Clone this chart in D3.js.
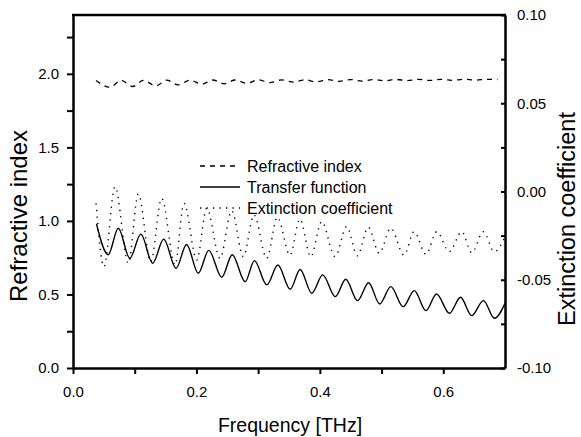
<!DOCTYPE html>
<html>
<head>
<meta charset="utf-8">
<script src="https://cdn.jsdelivr.net/npm/d3@7"></script>
<style>
  body { margin: 0; background: #fff; }
  text { font-family: "Liberation Sans", Arial, sans-serif; fill: #000; }
</style>
</head>
<body>
<svg id="chart" width="581" height="437"></svg>
<script>
// frequency [THz] / value pairs
const transferX = [0.038, 0.057, 0.0734, 0.092, 0.110, 0.129, 0.147, 0.167, 0.184, 0.203, 0.220, 0.241, 0.258, 0.279, 0.294, 0.314, 0.332, 0.352, 0.368, 0.387, 0.4046, 0.425, 0.442, 0.461, 0.479, 0.497, 0.515, 0.535, 0.553, 0.572, 0.589, 0.610, 0.628, 0.646, 0.665, 0.683, 0.700];
const transferY = [0.98, 0.77, 0.95, 0.746, 0.91, 0.712, 0.876, 0.678, 0.84, 0.644, 0.80, 0.617, 0.77, 0.587, 0.73, 0.565, 0.70, 0.535, 0.67, 0.508, 0.633, 0.485, 0.603, 0.458, 0.58, 0.435, 0.553, 0.417, 0.526, 0.39, 0.503, 0.372, 0.481, 0.356, 0.458, 0.338, 0.44];

const extinctionX = [0.0373, 0.0502, 0.0681, 0.0896, 0.1058, 0.1259, 0.1437, 0.1653, 0.1799, 0.2005, 0.2167, 0.2382, 0.2572, 0.2760, 0.2933, 0.3139, 0.3311, 0.3516, 0.3678, 0.3852, 0.4030, 0.4246, 0.4435, 0.4607, 0.4785, 0.4963, 0.5148, 0.5364, 0.5526, 0.5720, 0.5894, 0.6098, 0.6299, 0.6461, 0.6649, 0.6827, 0.700];
const extinctionY = [-0.0067, -0.0426, 0.0027, -0.0407, -0.0014, -0.0398, -0.0039, -0.0416, -0.0067, -0.0388, -0.0095, -0.0378, -0.0110, -0.0369, -0.0133, -0.0378, -0.0146, -0.0360, -0.0157, -0.0369, -0.0171, -0.0369, -0.0199, -0.0364, -0.0203, -0.0350, -0.0208, -0.0360, -0.0228, -0.0356, -0.0228, -0.0341, -0.0228, -0.0347, -0.0228, -0.0341, -0.0256];

const refractiveX = [0.0373, 0.060, 0.0778, 0.0967, 0.1139, 0.1345, 0.1518, 0.1706, 0.1896, 0.2086, 0.2264, 0.2452, 0.2625, 0.2815, 0.3003, 0.3192, 0.3382, 0.3570, 0.3759, 0.3938, 0.4127, 0.4311, 0.4495, 0.468, 0.4864, 0.5048, 0.5232, 0.5416, 0.560, 0.5784, 0.5968, 0.6152, 0.6336, 0.652, 0.6704, 0.688];
const refractiveY = [1.955, 1.909, 1.956, 1.914, 1.956, 1.918, 1.957, 1.925, 1.957, 1.930, 1.958, 1.932, 1.958, 1.936, 1.959, 1.940, 1.959, 1.943, 1.960, 1.945, 1.960, 1.949, 1.961, 1.951, 1.961, 1.953, 1.962, 1.954, 1.962, 1.955, 1.963, 1.956, 1.963, 1.957, 1.963, 1.960];

const xTicks = [0, 0.2, 0.4, 0.6];
const xMinor = [0.1, 0.3, 0.5];
const leftTicks = [0, 0.5, 1.0, 1.5, 2.0];
const leftMinor = [0.25, 0.75, 1.25, 1.75, 2.25];
const rightTicks = [-0.10, -0.05, 0.00, 0.05, 0.10];
const rightMinor = [-0.075, -0.025, 0.025, 0.075];

const legendNames = ["Refractive index", "Transfer function", "Extinction coefficient"];

const svg = d3.select('#chart');

const plotLeft = 73, plotRight = 505, plotTop = 15, plotBottom = 368;

const xScale = d3.scaleLinear().domain([0, 0.7]).range([plotLeft, plotRight]);
const yLeft = d3.scaleLinear().domain([0, 2.4]).range([plotBottom, plotTop]);
const yRight = d3.scaleLinear().domain([-0.10, 0.10]).range([plotBottom, plotTop]);

svg.append('clipPath').attr('id', 'plotClip')
  .append('rect')
  .attr('x', plotLeft).attr('y', plotTop)
  .attr('width', plotRight - plotLeft).attr('height', plotBottom - plotTop);

const zip = (xs, ys) => xs.map((x, i) => [x, ys[i]]);

const leftLine = d3.line()
  .x(d => xScale(d[0]))
  .y(d => yLeft(d[1]))
  .curve(d3.curveMonotoneX);

const rightLine = d3.line()
  .x(d => xScale(d[0]))
  .y(d => yRight(d[1]))
  .curve(d3.curveMonotoneX);

const plot = svg.append('g').attr('clip-path', 'url(#plotClip)');

plot.append('path')
  .attr('d', leftLine(zip(refractiveX, refractiveY)))
  .attr('fill', 'none')
  .attr('stroke', '#000')
  .attr('stroke-width', 1.3)
  .attr('stroke-dasharray', '5,5');

plot.append('path')
  .attr('d', leftLine(zip(transferX, transferY)))
  .attr('fill', 'none')
  .attr('stroke', '#000')
  .attr('stroke-width', 1.4);

plot.append('path')
  .attr('d', rightLine(zip(extinctionX, extinctionY)))
  .attr('fill', 'none')
  .attr('stroke', '#000')
  .attr('stroke-width', 1.4)
  .attr('stroke-dasharray', '1.3,5.2');

// axes
function styleAxis (g) {
  g.select('.domain').attr('stroke-width', 2.5);
  g.selectAll('.tick line').attr('stroke-width', 2);
  g.selectAll('.tick text').style('font-size', '15px').attr('fill', '#222');
}

svg.append('g')
  .attr('transform', `translate(0, ${plotBottom})`)
  .call(d3.axisBottom(xScale).tickValues(xTicks).tickFormat(d => d.toFixed(1)).tickSize(6).tickSizeOuter(0).tickPadding(12))
  .call(styleAxis);

svg.append('g')
  .attr('transform', `translate(0, ${plotBottom})`)
  .call(d3.axisBottom(xScale).tickValues(xMinor).tickFormat('').tickSize(6).tickSizeOuter(0))
  .call(g => g.select('.domain').remove())
  .call(styleAxis);

svg.append('g')
  .attr('transform', `translate(${plotLeft}, 0)`)
  .call(d3.axisLeft(yLeft).tickValues(leftTicks).tickFormat(d => d.toFixed(1)).tickSize(6).tickSizeOuter(0).tickPadding(8))
  .call(styleAxis);

svg.append('g')
  .attr('transform', `translate(${plotLeft}, 0)`)
  .call(d3.axisLeft(yLeft).tickValues(leftMinor).tickFormat('').tickSize(6).tickSizeOuter(0))
  .call(g => g.select('.domain').remove())
  .call(styleAxis);

svg.append('g')
  .attr('transform', `translate(${plotRight}, 0)`)
  .call(d3.axisRight(yRight).tickValues(rightTicks).tickFormat(d => d.toFixed(2)).tickSize(-4).tickSizeOuter(0).tickPadding(12))
  .call(styleAxis);

svg.append('g')
  .attr('transform', `translate(${plotRight}, 0)`)
  .call(d3.axisRight(yRight).tickValues(rightMinor).tickFormat('').tickSize(-4).tickSizeOuter(0))
  .call(g => g.select('.domain').remove())
  .call(styleAxis);

svg.append('line')
  .attr('x1', plotLeft - 1).attr('x2', plotRight + 1)
  .attr('y1', plotTop).attr('y2', plotTop)
  .attr('stroke', '#000')
  .attr('stroke-width', 2.5);

// axis titles
svg.append('text')
  .attr('x', (plotLeft + plotRight) / 2 + 1)
  .attr('y', 432)
  .attr('text-anchor', 'middle')
  .style('font-size', '19.5px')
  .text('Frequency [THz]');

svg.append('text')
  .attr('transform', `translate(27, 216) rotate(-90)`)
  .attr('text-anchor', 'middle')
  .style('font-size', '24px')
  .text('Refractive index');

svg.append('text')
  .attr('transform', `translate(575, 219) rotate(-90)`)
  .attr('text-anchor', 'middle')
  .style('font-size', '23.5px')
  .text('Extinction coefficient');

// legend
const legendDash = ['5,5', null, '1.3,5.2'];
const legendG = svg.append('g').attr('transform', 'translate(200, 166)');

legendNames.forEach((name, i) => {
  const row = legendG.append('g').attr('transform', `translate(0, ${i * 21})`);
  row.append('line')
    .attr('x1', 0).attr('x2', 40)
    .attr('y1', 0).attr('y2', 0)
    .attr('stroke', '#000')
    .attr('stroke-width', 1.4)
    .attr('stroke-dasharray', legendDash[i]);
  row.append('text')
    .attr('x', 47)
    .attr('y', 5.5)
    .style('font-size', '16px')
    .text(name);
});
</script>
</body>
</html>
